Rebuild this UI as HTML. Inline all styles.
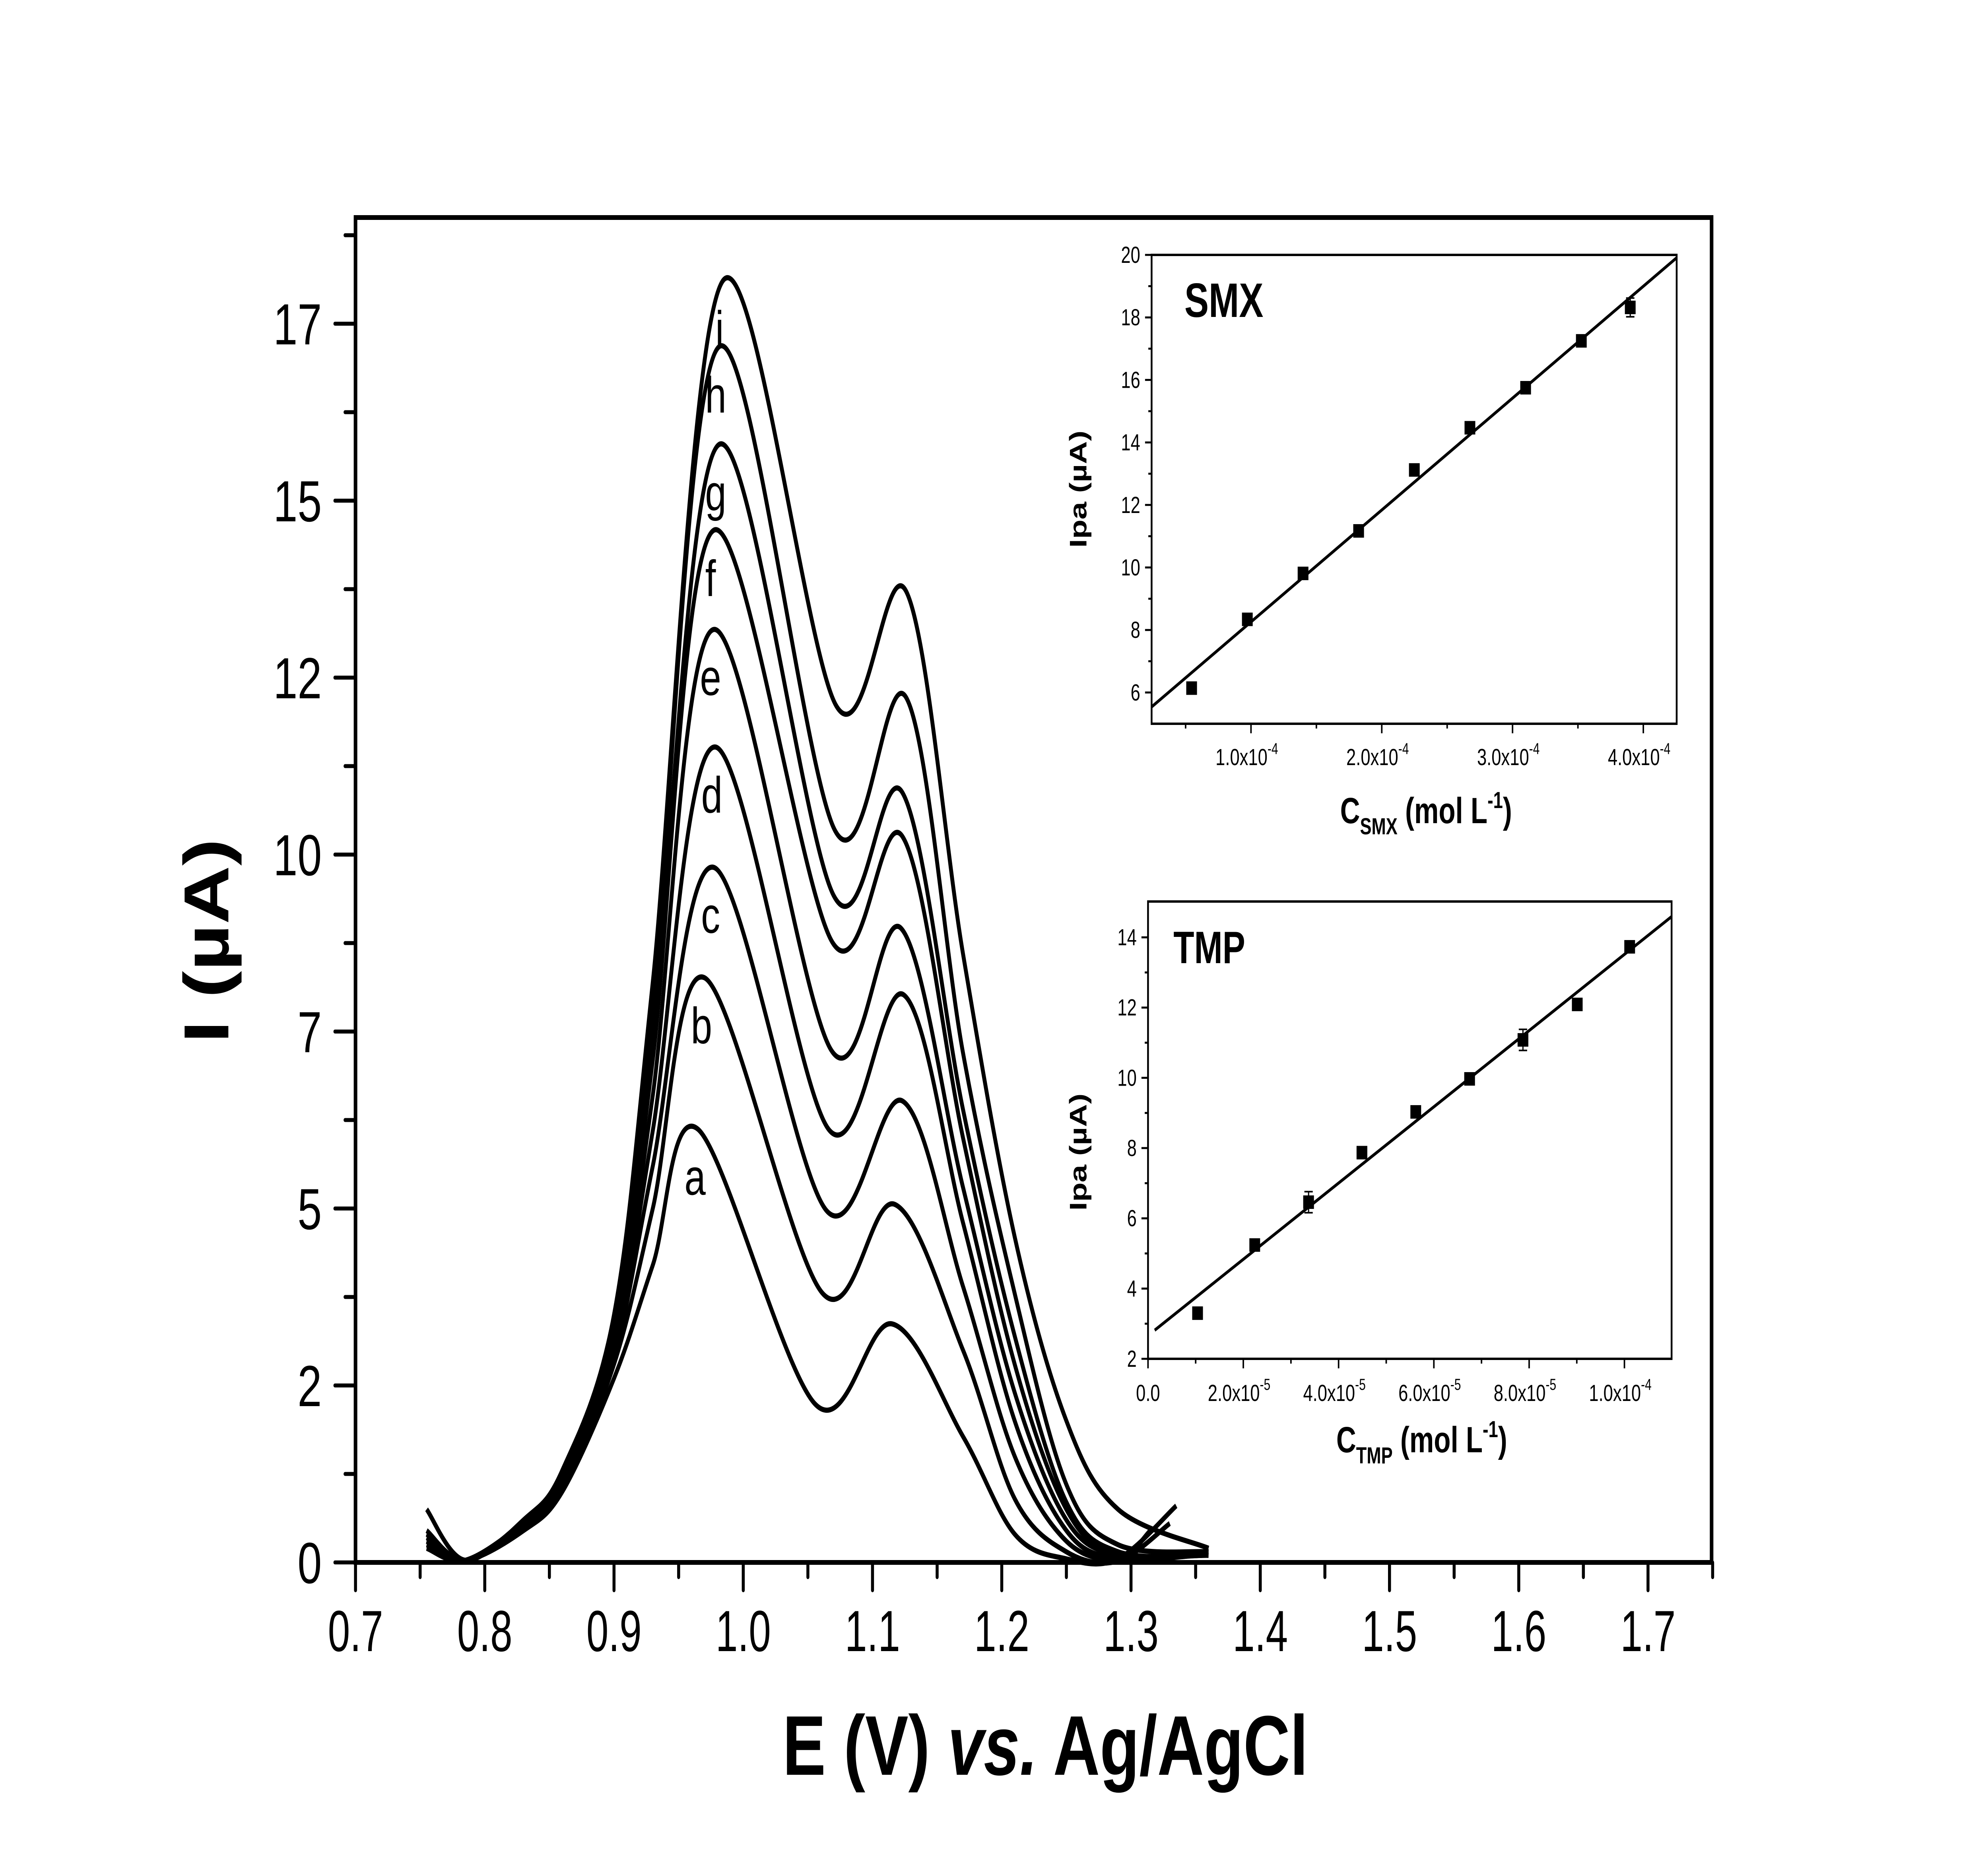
<!DOCTYPE html>
<html><head><meta charset="utf-8"><style>
html,body{margin:0;padding:0;background:#fff;width:100%;height:100%;overflow:hidden}
svg{display:block;width:100vw;height:100vh}
text{font-family:"Liberation Sans",Arial,sans-serif;fill:#000}
</style></head>
<body>
<svg id="chart" xmlns="http://www.w3.org/2000/svg" viewBox="0 0 6660 4710" preserveAspectRatio="none">
<rect x="0" y="0" width="6660" height="4710" fill="#fff"/>
<g id="main"></g>
<g id="smx"></g>
<g id="tmp"></g>
</svg>
<script>
// ---------- main voltammogram data ----------
const curveLabels = ['a','b','c','d','e','f','g','h','i'];
const startI   = [0.30,0.25,0.20,0.35,0.30,0.40,0.20,0.45,0.75];
const minI     = [0.03,0.03,0.03,0.03,0.03,0.03,0.03,0.03,0.03];
const at083    = [0.45,0.47,0.49,0.51,0.53,0.55,0.57,0.59,0.60];
const at086    = [1.00,1.05,1.10,1.13,1.16,1.20,1.23,1.26,1.30];
const at090    = [2.6,2.8,2.9,3.0,3.1,3.2,3.3,3.4,3.5];
const at093    = [4.2,5.0,5.6,6.1,6.6,7.1,7.5,7.9,8.2];
const peak1E   = [0.965,0.970,0.977,0.978,0.977,0.977,0.981,0.981,0.984];
const peak1I   = [6.12,8.26,9.82,11.52,13.18,14.58,15.79,17.17,18.10];
const valleyE  = [1.056,1.061,1.064,1.066,1.068,1.069,1.070,1.071,1.072];
const valleyI  = [2.23,3.81,4.98,6.12,7.24,8.76,9.42,10.34,12.10];
const peak2E   = [1.115,1.117,1.123,1.124,1.122,1.123,1.123,1.126,1.126];
const peak2I   = [3.37,5.06,6.52,8.02,8.96,10.26,10.88,12.22,13.72];
const at117    = [1.78,3.0,3.9,4.8,5.3,6.0,6.4,7.2,8.6];
const at121    = [0.40,0.90,1.5,2.0,2.4,2.8,3.2,3.8,4.6];
const at125    = [0.05,0.15,0.30,0.45,0.60,0.75,0.85,1.1,2.0];
const at129    = [0.05,0.02,0.05,0.05,0.1,0.12,0.15,0.25,0.75];
const endE     = [1.335,1.330,1.315,1.350,1.355,1.360,1.360,1.360,1.360];
const endI     = [0.80,0.55,0.45,0.10,0.10,0.15,0.10,0.15,0.20];
const xTickVals = [0.7,0.8,0.9,1.0,1.1,1.2,1.3,1.4,1.5,1.6,1.7];
const xTickLabels = ['0.7','0.8','0.9','1.0','1.1','1.2','1.3','1.4','1.5','1.6','1.7'];
const yTickVals = [0,2.5,5,7.5,10,12.5,15,17.5];
const yTickLabels = ['0','2','5','7','10','12','15','17'];

// ---------- SMX inset data ----------
const smxConc = [0.546,0.972,1.398,1.823,2.249,2.674,3.100,3.526,3.900]; // x1e-4
const smxIpa  = [6.14,8.34,9.81,11.17,13.12,14.47,15.75,17.25,18.32];
const smxErr  = [0.1,0.1,0.1,0.1,0.1,0.1,0.1,0.1,0.3];
const smxYTicks = [6,8,10,12,14,16,18,20];
const smxXTicks = [1,2,3,4];
const smxXTickLabels = ['1.0x10','2.0x10','3.0x10','4.0x10'];

// ---------- TMP inset data ----------
const tmpConc = [1.04,2.24,3.37,4.49,5.62,6.75,7.87,9.01,10.11]; // x1e-5
const tmpIpa  = [3.30,5.24,6.46,7.87,9.03,9.97,11.08,12.09,13.73];
const tmpErr  = [0.1,0.1,0.3,0.1,0.1,0.1,0.3,0.1,0.1];
const tmpYTicks = [2,4,6,8,10,12,14];
const tmpXTicks = [0,2,4,6,8,10];
const tmpXTickLabels = ['0.0','2.0x10','4.0x10','6.0x10','8.0x10','1.0x10'];
const tmpXTickExp = ['','-5','-5','-5','-5','-4'];

const NS='http://www.w3.org/2000/svg';
function mk(parent,tag,attrs,txt){const e=document.createElementNS(NS,tag);for(const k in attrs)e.setAttribute(k,attrs[k]);if(txt!==undefined)e.textContent=txt;parent.appendChild(e);return e;}

// ===== MAIN =====
const M=document.getElementById('main');
const L=1191,R=5734,T=547,B=3929;
const xS=e=>L+(e-0.7)*4330;
const yS=v=>B-v*178;
let fr=mk(M,'rect',{x:L,y:T,width:R-L,height:B-T,fill:'none',stroke:'#000','stroke-width':12});


for(let e=0.7;e<=1.751;e+=0.05){
  const major=Math.abs(Math.round(e*10)-e*10)<1e-6;
  const t=mk(M,'line',{x1:xS(e),x2:xS(e),y1:B,y2:B+(major?70:37),stroke:'#000','stroke-width':10,'stroke-linecap':'round'});
  
  
}
xTickVals.forEach((v,i)=>{
  const t=mk(M,'text',{x:xS(v),y:4152,'font-size':146,'text-anchor':'middle',textLength:185,lengthAdjust:'spacingAndGlyphs'},xTickLabels[i]);
  
  
});
for(let v=0;v<=18.76;v+=1.25){
  const major=Math.abs(v/2.5-Math.round(v/2.5))<1e-6;
  const t=mk(M,'line',{x1:L,x2:L-(major?69:35),y1:yS(v),y2:yS(v),stroke:'#000','stroke-width':10,'stroke-linecap':'round'});
  
  
}
yTickVals.forEach((v,i)=>{
  const t=mk(M,'text',{x:1078,y:yS(v)+52,'font-size':146,'text-anchor':'end'},yTickLabels[i]);
  
  
});
let xt=mk(M,'text',{x:2622,y:4463,'font-size':213,'font-weight':'bold',textLength:1760,lengthAdjust:'spacingAndGlyphs'});


mk(xt,'tspan',{},'E (V) ');
mk(xt,'tspan',{'font-style':'italic'},'vs.');
mk(xt,'tspan',{},' Ag/AgCl');
let yt=mk(M,'text',{x:0,y:0,'font-size':213,'font-weight':'bold','text-anchor':'middle',transform:'translate(765,2366) rotate(-90)',textLength:514,lengthAdjust:'spacingAndGlyphs'},'I (\u00B5A)');



function catmull(pts){
  let d='M'+pts[0][0].toFixed(1)+','+pts[0][1].toFixed(1);
  for(let i=0;i<pts.length-1;i++){
    const p0=pts[Math.max(0,i-1)],p1=pts[i],p2=pts[i+1],p3=pts[Math.min(pts.length-1,i+2)];
    const c1=[p1[0]+(p2[0]-p0[0])/6,p1[1]+(p2[1]-p0[1])/6];
    const c2=[p2[0]-(p3[0]-p1[0])/6,p2[1]-(p3[1]-p1[1])/6];
    d+='C'+c1[0].toFixed(1)+','+c1[1].toFixed(1)+' '+c2[0].toFixed(1)+','+c2[1].toFixed(1)+' '+p2[0].toFixed(1)+','+p2[1].toFixed(1);
  }
  return d;
}
curveLabels.forEach((lab,k)=>{
  const data=[[0.755,startI[k]],[0.785,minI[k]],[0.83,at083[k]],[0.86,at086[k]],[0.90,at090[k]],[0.93,at093[k]],
    [peak1E[k],peak1I[k]],[valleyE[k],valleyI[k]],[peak2E[k],peak2I[k]],[1.17,at117[k]],[1.21,at121[k]],[1.25,at125[k]],[1.29,at129[k]],[endE[k],endI[k]]];
  const pts=data.map(p=>[xS(p[0]),yS(p[1])]);
  const path=mk(M,'path',{d:catmull(pts),fill:'none',stroke:'#000','stroke-width':13,'stroke-linejoin':'round'});
  
  
  const t=mk(M,'text',{x:xS(peak1E[k])-10,y:yS(peak1I[k])+165,'font-size':128,'text-anchor':'middle'},lab);
  
  
});

function inset(G,cfg){
  const {l,r,t,b,xmin,xmax,ymin,ymax}=cfg;
  const xs=v=>l+(v-xmin)/(xmax-xmin)*(r-l);
  const ys=v=>b-(v-ymin)/(ymax-ymin)*(b-t);
  const f=mk(G,'rect',{x:l,y:t,width:r-l,height:b-t,fill:'#fff',stroke:'#000','stroke-width':6});
  
  
  cfg.yTicks.forEach(v=>{
    const tk=mk(G,'line',{x1:l,x2:l-22,y1:ys(v),y2:ys(v),stroke:'#000','stroke-width':5});
    
    
    const mv=v-cfg.yStep/2;
    if(mv>ymin){const m=mk(G,'line',{x1:l,x2:l-11,y1:ys(mv),y2:ys(mv),stroke:'#000','stroke-width':5});
      
      }
    const lb=mk(G,'text',{x:l-38,y:ys(v)+20,'font-size':58,'text-anchor':'end'},String(v));
    
    
  });
  cfg.xTicks.forEach((v,i)=>{
    const tk=mk(G,'line',{x1:xs(v),x2:xs(v),y1:b,y2:b+24,stroke:'#000','stroke-width':5});
    
    
    const lb=mk(G,'text',{x:xs(v)+(cfg.xExp[i]?-14:0),y:cfg.tickBase,'font-size':58,'text-anchor':'middle'});
    
    
    mk(lb,'tspan',{},cfg.xLabels[i]);
    if(cfg.xExp[i]) mk(lb,'tspan',{dy:-28,'font-size':40},cfg.xExp[i]);
  });
  cfg.xMinor.forEach(v=>{
    const m=mk(G,'line',{x1:xs(v),x2:xs(v),y1:b,y2:b+12,stroke:'#000','stroke-width':5});
    
    
  });
  const X=cfg.xData,Y=cfg.yData,n=X.length;
  const mx=X.reduce((a,c)=>a+c,0)/n,my=Y.reduce((a,c)=>a+c,0)/n;
  let sxy=0,sxx=0;for(let i=0;i<n;i++){sxy+=(X[i]-mx)*(Y[i]-my);sxx+=(X[i]-mx)**2;}
  const sl=sxy/sxx,ic=my-sl*mx;
  let x0=cfg.fitFrom,x1=xmax;if(ic+sl*x1>ymax)x1=(ymax-ic)/sl;
  const ln=mk(G,'line',{x1:xs(x0),y1:ys(ic+sl*x0),x2:xs(x1),y2:ys(ic+sl*x1),stroke:'#000','stroke-width':8});
  
  
  for(let i=0;i<n;i++){
    const cx=xs(X[i]),cy=ys(Y[i]),e=cfg.err[i];
    const eb=mk(G,'path',{d:`M${cx},${ys(Y[i]+e)}V${ys(Y[i]-e)}M${cx-14},${ys(Y[i]+e)}h28M${cx-14},${ys(Y[i]-e)}h28`,stroke:'#000','stroke-width':4,fill:'none'});
    
    
    const p=mk(G,'rect',{x:cx-18,y:cy-17,width:36,height:34,fill:'#000'});
    
    
  }
  const nm=mk(G,'text',{x:cfg.nameX,y:cfg.nameY,'font-size':cfg.nameSize,'font-weight':'bold'},cfg.title);
  
  
  const xt=mk(G,'text',{x:(l+r)/2+40,y:cfg.xtBase,'font-size':92,'font-weight':'bold','text-anchor':'middle'});
  
  
  mk(xt,'tspan',{},'C');
  mk(xt,'tspan',{dy:28,'font-size':58},cfg.title);
  mk(xt,'tspan',{dy:-28},' (mol L');
  mk(xt,'tspan',{dy:-38,'font-size':58},'-1');
  mk(xt,'tspan',{dy:38},')');
  const yt=mk(G,'text',{x:0,y:0,'font-size':80,'font-weight':'bold','text-anchor':'middle',transform:`translate(${cfg.ytX},${cfg.ytY}) rotate(-90)`},'Ipa (\u00B5A)');
  
  
}
inset(document.getElementById('smx'),{name:'smx',title:'SMX',l:3858,r:5617,t:641,b:1820,xmin:0.24,xmax:4.255,ymin:5,ymax:20,
  yTicks:smxYTicks,yStep:2,xTicks:smxXTicks,xLabels:smxXTickLabels,xExp:['-4','-4','-4','-4'],xMinor:[0.5,1.5,2.5,3.5],
  tickBase:1924,xData:smxConc,yData:smxIpa,err:smxErr,fitFrom:0.24,nameX:3968,nameY:797,nameSize:122,xtBase:2070,ytX:3640,ytY:1230});
inset(document.getElementById('tmp'),{name:'tmp',title:'TMP',l:3846,r:5600,t:2267,b:3417,xmin:0,xmax:10.99,ymin:2,ymax:15.02,
  yTicks:tmpYTicks,yStep:2,xTicks:tmpXTicks,xLabels:tmpXTickLabels,xExp:tmpXTickExp,xMinor:[1,3,5,7,9],
  tickBase:3523,xData:tmpConc,yData:tmpIpa,err:tmpErr,fitFrom:0.14,nameX:3931,nameY:2422,nameSize:114,xtBase:3652,ytX:3640,ytY:2897});
</script>
</body></html>
